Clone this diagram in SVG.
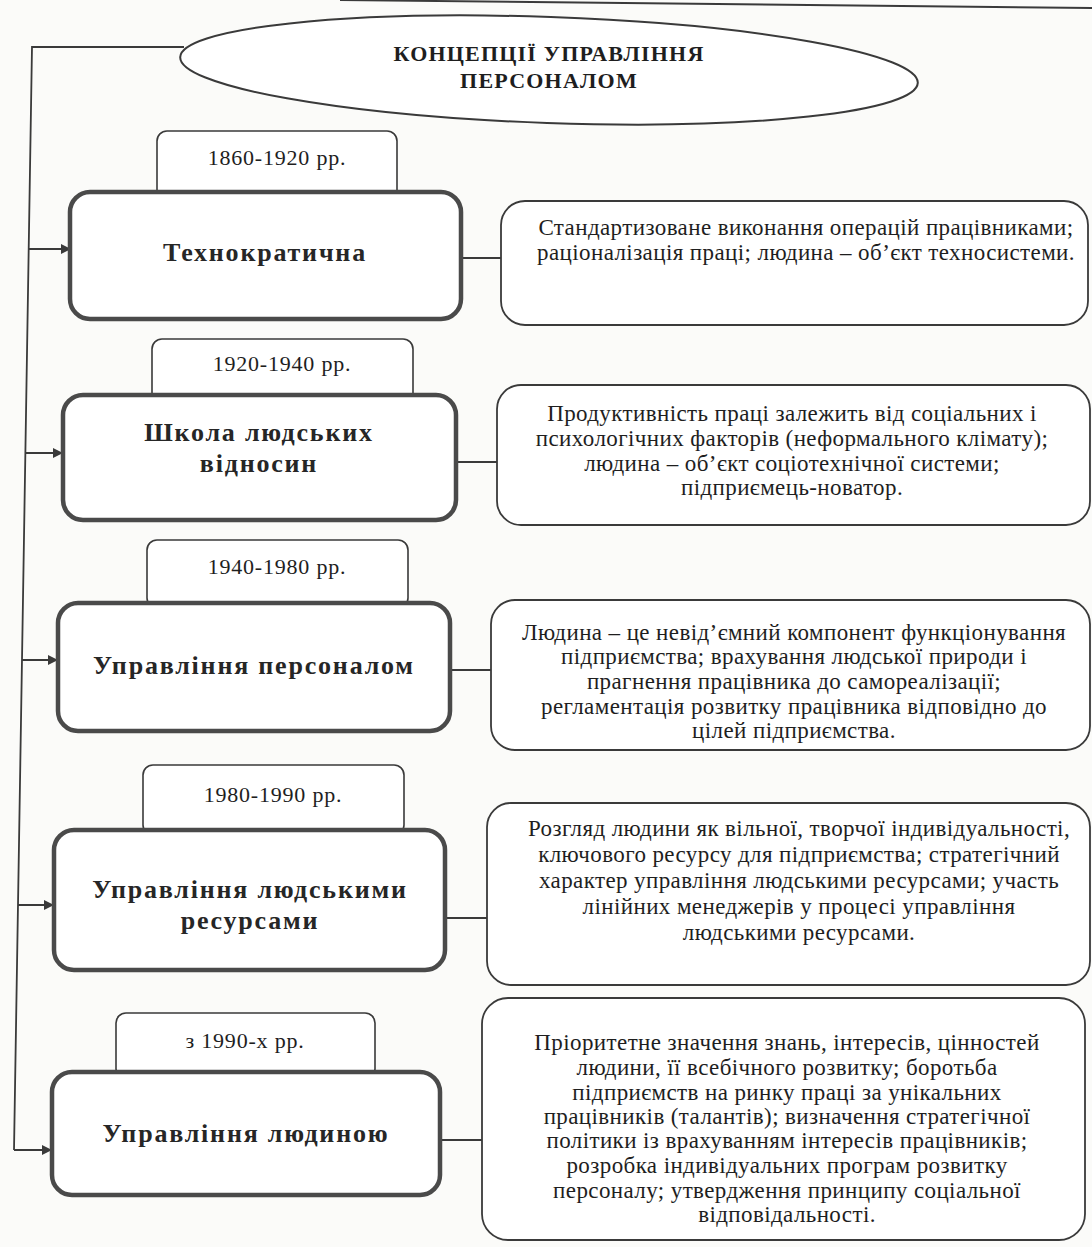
<svg xmlns="http://www.w3.org/2000/svg" width="1092" height="1247" viewBox="0 0 1092 1247">
<style>
.bg{fill:#fbfbf9}
.date{fill:#fff;stroke:#3a3a3a;stroke-width:1.6}
.main{fill:#fff;stroke:#4a4a4a;stroke-width:4.5}
.desc{fill:#fff;stroke:#3a3a3a;stroke-width:1.8}
.ell{fill:#fff;stroke:#3a3a3a;stroke-width:2}
.conn{fill:none;stroke:#3a3a3a;stroke-width:1.8}
.t-title{font-family:"Liberation Serif",serif;font-weight:bold;font-size:22px;letter-spacing:1.2px;fill:#1e1e1e;text-anchor:middle}
.t-date{font-family:"Liberation Serif",serif;font-size:22px;letter-spacing:0.8px;fill:#1e1e1e;text-anchor:middle}
.t-main{font-family:"Liberation Serif",serif;font-weight:bold;font-size:26px;letter-spacing:1.8px;fill:#262626;text-anchor:middle}
.t-desc{font-family:"Liberation Serif",serif;font-size:23px;letter-spacing:0.4px;fill:#1e1e1e;text-anchor:middle}
</style>
<defs>
<marker id="arr" markerWidth="10" markerHeight="10" refX="9" refY="5" orient="auto" markerUnits="userSpaceOnUse">
<path d="M0,0 L10,5 L0,10 Z" fill="#3a3a3a"/>
</marker>
</defs>
<rect class="bg" x="0" y="0" width="1092" height="1247"/>
<line x1="340" y1="0" x2="1092" y2="8" stroke="#3a3a3a" stroke-width="2"/>

<g id="connectors">
<path class="conn" d="M184,47 L32,47 L14,1150"/>
<line class="conn" x1="29" y1="249" x2="70" y2="249" marker-end="url(#arr)"/>
<line class="conn" x1="25" y1="453" x2="62" y2="453" marker-end="url(#arr)"/>
<line class="conn" x1="22" y1="660" x2="57" y2="660" marker-end="url(#arr)"/>
<line class="conn" x1="18" y1="905" x2="53" y2="905" marker-end="url(#arr)"/>
<line class="conn" x1="14" y1="1150" x2="51" y2="1150" marker-end="url(#arr)"/>
<line class="conn" x1="461" y1="258" x2="501" y2="258"/>
<line class="conn" x1="456" y1="462" x2="497" y2="462"/>
<line class="conn" x1="450" y1="670" x2="491" y2="670"/>
<line class="conn" x1="445" y1="918" x2="487" y2="918"/>
<line class="conn" x1="440" y1="1140" x2="482" y2="1140"/>
</g>

<g id="title">
<ellipse class="ell" cx="549" cy="70" rx="369" ry="53" transform="rotate(2 549 70)"/>
<text class="t-title" x="549" y="61">КОНЦЕПЦІЇ УПРАВЛІННЯ</text>
<text class="t-title" x="549" y="88">ПЕРСОНАЛОМ</text>
</g>

<g id="date1">
<rect class="date" x="157" y="131" width="240" height="72" rx="10"/>
<text class="t-date" x="277" y="165">1860-1920 рр.</text>
</g>
<g id="node1">
<rect class="main" x="70" y="192" width="391" height="127" rx="20"/>
<text class="t-main" x="265" y="261">Технократична</text>
</g>
<g id="desc1">
<rect class="desc" x="501" y="201" width="587" height="124" rx="24"/>
<text class="t-desc" x="806" y="235">Стандартизоване виконання операцій працівниками;</text>
<text class="t-desc" x="806" y="260">раціоналізація праці; людина – об’єкт техносистеми.</text>
</g>

<g id="date2">
<rect class="date" x="152" y="339" width="261" height="68" rx="10"/>
<text class="t-date" x="282" y="371">1920-1940 рр.</text>
</g>
<g id="node2">
<rect class="main" x="63" y="395" width="393" height="125" rx="20"/>
<text class="t-main" x="259" y="441">Школа людських</text>
<text class="t-main" x="259" y="472">відносин</text>
</g>
<g id="desc2">
<rect class="desc" x="497" y="385" width="593" height="140" rx="24"/>
<text class="t-desc" x="792" y="421">Продуктивність праці залежить від соціальних і</text>
<text class="t-desc" x="792" y="446">психологічних факторів (неформального клімату);</text>
<text class="t-desc" x="792" y="471">людина – об’єкт соціотехнічної системи;</text>
<text class="t-desc" x="792" y="495">підприємець-новатор.</text>
</g>

<g id="date3">
<rect class="date" x="147" y="540" width="261" height="68" rx="10"/>
<text class="t-date" x="277" y="574">1940-1980 рр.</text>
</g>
<g id="node3">
<rect class="main" x="58" y="603" width="392" height="128" rx="20"/>
<text class="t-main" x="254" y="674">Управління персоналом</text>
</g>
<g id="desc3">
<rect class="desc" x="491" y="600" width="599" height="150" rx="24"/>
<text class="t-desc" x="794" y="640">Людина – це невід’ємний компонент функціонування</text>
<text class="t-desc" x="794" y="664">підприємства; врахування людської природи і</text>
<text class="t-desc" x="794" y="689">прагнення працівника до самореалізації;</text>
<text class="t-desc" x="794" y="714">регламентація розвитку працівника відповідно до</text>
<text class="t-desc" x="794" y="738">цілей підприємства.</text>
</g>

<g id="date4">
<rect class="date" x="143" y="765" width="261" height="70" rx="10"/>
<text class="t-date" x="273" y="802">1980-1990 рр.</text>
</g>
<g id="node4">
<rect class="main" x="54" y="830" width="391" height="140" rx="20"/>
<text class="t-main" x="250" y="898">Управління людськими</text>
<text class="t-main" x="250" y="929">ресурсами</text>
</g>
<g id="desc4">
<rect class="desc" x="487" y="803" width="603" height="182" rx="24"/>
<text class="t-desc" x="799" y="836">Розгляд людини як вільної, творчої індивідуальності,</text>
<text class="t-desc" x="799" y="862">ключового ресурсу для підприємства; стратегічний</text>
<text class="t-desc" x="799" y="888">характер управління людськими ресурсами; участь</text>
<text class="t-desc" x="799" y="914">лінійних менеджерів у процесі управління</text>
<text class="t-desc" x="799" y="940">людськими ресурсами.</text>
</g>

<g id="date5">
<rect class="date" x="116" y="1013" width="259" height="66" rx="10"/>
<text class="t-date" x="245" y="1048">з 1990-х рр.</text>
</g>
<g id="node5">
<rect class="main" x="52" y="1072" width="388" height="123" rx="20"/>
<text class="t-main" x="246" y="1142">Управління людиною</text>
</g>
<g id="desc5">
<rect class="desc" x="482" y="998" width="603" height="242" rx="26"/>
<text class="t-desc" x="787" y="1050">Пріоритетне значення знань, інтересів, цінностей</text>
<text class="t-desc" x="787" y="1075">людини, її всебічного розвитку; боротьба</text>
<text class="t-desc" x="787" y="1100">підприємств на ринку праці за унікальних</text>
<text class="t-desc" x="787" y="1124">працівників (талантів); визначення стратегічної</text>
<text class="t-desc" x="787" y="1148">політики із врахуванням інтересів працівників;</text>
<text class="t-desc" x="787" y="1173">розробка індивідуальних програм розвитку</text>
<text class="t-desc" x="787" y="1198">персоналу; утвердження принципу соціальної</text>
<text class="t-desc" x="787" y="1222">відповідальності.</text>
</g>
</svg>
